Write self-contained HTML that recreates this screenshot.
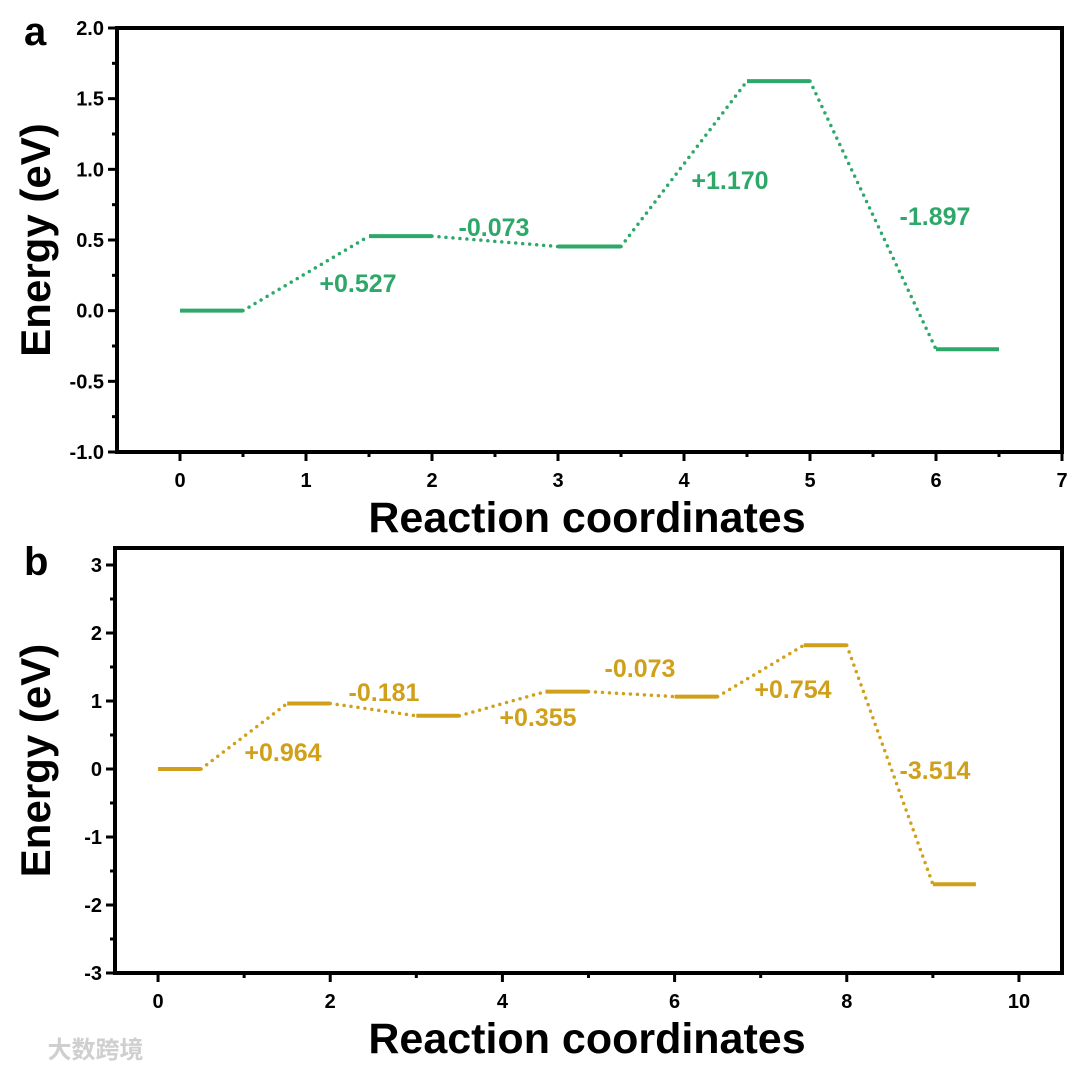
<!DOCTYPE html>
<html><head><meta charset="utf-8"><style>
body{margin:0;background:#fff;}
svg text{font-family:"Liberation Sans","Noto Sans CJK SC",sans-serif;font-weight:bold;}
</style></head><body>
<svg id="chart" width="1080" height="1069" xmlns="http://www.w3.org/2000/svg"></svg>
<script>
const levelsA = [0, 0.527, 0.454, 1.624, -0.273];
const startsA = [0, 1.5, 3, 4.5, 6];
const deltaLabelsA = ["+0.527", "-0.073", "+1.170", "-1.897"];
const xTicksA = [0,1,2,3,4,5,6,7];
const yTicksA = [2.0,1.5,1.0,0.5,0.0,-0.5,-1.0];

const levelsB = [0, 0.964, 0.783, 1.138, 1.065, 1.819, -1.695];
const startsB = [0, 1.5, 3, 4.5, 6, 7.5, 9];
const deltaLabelsB = ["+0.964", "-0.181", "+0.355", "-0.073", "+0.754", "-3.514"];
const xTicksB = [0,2,4,6,8,10];
const yTicksB = [3,2,1,0,-1,-2,-3];

const NS = "http://www.w3.org/2000/svg";
const svg = document.getElementById('chart');
function el(tag, attrs, parent){
  const e = document.createElementNS(NS, tag);
  for (const k in attrs) e.setAttribute(k, attrs[k]);
  (parent||svg).appendChild(e);
  return e;
}

function panel(cfg){
  const g = el('g', {});
  
  
  const X = v => cfg.L + (v - cfg.x0) / (cfg.x1 - cfg.x0) * (cfg.R - cfg.L);
  const Y = v => cfg.B - (v - cfg.y0) / (cfg.y1 - cfg.y0) * (cfg.B - cfg.T);
  const fr = el('rect', {x:cfg.L, y:cfg.T, width:cfg.R-cfg.L, height:cfg.B-cfg.T, fill:'none', stroke:'#000', 'stroke-width':4}, g);
  
  
  cfg.xTicks.forEach((t, i) => {
    const x = X(t);
    el('line', {x1:x, y1:cfg.B, x2:x, y2:cfg.B+9, stroke:'#000', 'stroke-width':3}, g);
    const tx = el('text', {x:x, y:cfg.B+35, 'font-size':20, 'text-anchor':'middle'}, g);
    tx.textContent = t;
    
    
    if (i < cfg.xTicks.length - 1) {
      const m = X((t + cfg.xTicks[i+1]) / 2);
      el('line', {x1:m, y1:cfg.B, x2:m, y2:cfg.B+5, stroke:'#000', 'stroke-width':3}, g);
    }
  });
  cfg.yTicks.forEach((t, i) => {
    const y = Y(t);
    el('line', {x1:cfg.L, y1:y, x2:cfg.L-9, y2:y, stroke:'#000', 'stroke-width':3}, g);
    const ty = el('text', {x:cfg.L-13, y:y+7, 'font-size':20, 'text-anchor':'end'}, g);
    ty.textContent = cfg.yFmt(t);
    
    
    if (i < cfg.yTicks.length - 1) {
      const m = Y((t + cfg.yTicks[i+1]) / 2);
      el('line', {x1:cfg.L, y1:m, x2:cfg.L-5, y2:m, stroke:'#000', 'stroke-width':3}, g);
    }
  });
  cfg.levels.forEach((v, i) => {
    const s = cfg.starts[i];
    const lv = el('line', {x1:X(s), y1:Y(v), x2:X(s+0.5), y2:Y(v), stroke:cfg.color, 'stroke-width':4}, g);
    
    
    if (i < cfg.levels.length - 1) {
      const c = el('line', {x1:X(s+0.5), y1:Y(v), x2:X(cfg.starts[i+1]), y2:Y(cfg.levels[i+1]), stroke:cfg.color, 'stroke-width':3.5, 'stroke-dasharray':'0 7', 'stroke-linecap':'round'}, g);
      
      
      const p = cfg.labelPos[i];
      const lt = el('text', {x:p[0], y:p[1], 'font-size':25, fill:cfg.color, 'text-anchor':'middle'}, g);
      lt.textContent = cfg.labels[i];
      
      
    }
  });
  const xt = el('text', {x:587, y:cfg.B+80, 'font-size':43, 'text-anchor':'middle'}, g);
  xt.textContent = 'Reaction coordinates';
  
  
  const cy = (cfg.T+cfg.B)/2;
  const yt = el('text', {x:0, y:0, 'font-size':42, 'text-anchor':'middle', transform:`translate(${cfg.yTitleX},${cy}) rotate(-90)`}, g);
  yt.textContent = 'Energy (eV)';
  
  
  const pl = el('text', {x:cfg.letterX, y:cfg.letterY, 'font-size':40}, g);
  pl.textContent = cfg.letter;
  
  
}

panel({name:'panel-a', L:117, R:1062, T:28, B:452, x0:-0.5, x1:7, y0:-1, y1:2,
  xTicks:xTicksA, yTicks:yTicksA, yFmt:t=>t.toFixed(1), levels:levelsA, starts:startsA,
  labels:deltaLabelsA, labelPos:[[358,292],[494,236],[730,189],[935,225]],
  color:'#2ea86a', yTitleX:50, letter:'a', letterX:24, letterY:45});

panel({name:'panel-b', L:115, R:1062, T:548, B:973, x0:-0.5, x1:10.5, y0:-3, y1:3.25,
  xTicks:xTicksB, yTicks:yTicksB, yFmt:t=>t, levels:levelsB, starts:startsB,
  labels:deltaLabelsB, labelPos:[[283,761],[384,701],[538,726],[640,677],[793,698],[935,779]],
  color:'#d1a01a', yTitleX:50, letter:'b', letterX:24, letterY:575});

const wm = el('text', {x:12, y:1058, 'font-size':24, fill:'#cfcfcf'});
wm.textContent = '\u2009\u2009\u2009\u2009\u2009\u2009 大数跨境';


</script>
</body></html>
